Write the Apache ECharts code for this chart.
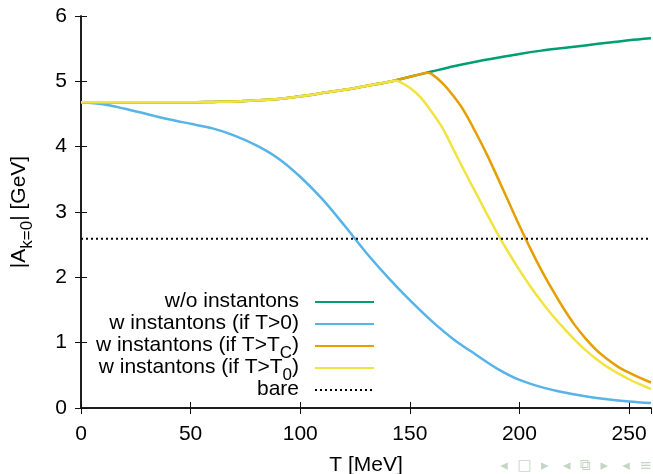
<!DOCTYPE html>
<html>
<head>
<meta charset="utf-8">
<script src="https://cdn.jsdelivr.net/npm/echarts@6/dist/echarts.min.js"></script>
<style>
  html, body { margin: 0; padding: 0; background: #fff; }
  #chart { width: 653px; height: 474px; }
</style>
</head>
<body>
<div id="chart"></div>
<script>
// Temperature grid (MeV) shared by the first two curves
const tGrid = [0, 10, 20, 30, 40, 50, 60, 70, 80, 90, 100, 110, 120, 130, 140, 150, 160, 170, 180, 190, 200, 210, 220, 230, 240, 250, 260];

// |A_{k=0}| in GeV
const noInst = [4.68, 4.68, 4.68, 4.68, 4.68, 4.68, 4.685, 4.69, 4.71, 4.73, 4.77, 4.82, 4.87, 4.93, 4.99, 5.07, 5.15, 5.23, 5.30, 5.36, 5.42, 5.47, 5.51, 5.55, 5.59, 5.63, 5.66];
const instAll = [4.68, 4.65, 4.58, 4.50, 4.42, 4.35, 4.28, 4.17, 4.02, 3.82, 3.54, 3.20, 2.80, 2.38, 2.00, 1.65, 1.33, 1.05, 0.82, 0.60, 0.43, 0.32, 0.24, 0.18, 0.135, 0.10, 0.075];

const tTc = [0, 10, 20, 30, 40, 50, 60, 70, 80, 90, 100, 110, 120, 130, 140, 150, 155, 158, 160, 165, 170, 175, 180, 185, 190, 195, 200, 205, 210, 215, 220, 225, 230, 235, 240, 245, 250, 255, 260];
const instTc = [4.68, 4.68, 4.68, 4.68, 4.68, 4.68, 4.685, 4.69, 4.71, 4.73, 4.77, 4.82, 4.87, 4.93, 4.99, 5.07, 5.11, 5.13, 5.11, 4.97, 4.77, 4.53, 4.22, 3.89, 3.53, 3.16, 2.79, 2.44, 2.11, 1.81, 1.53, 1.28, 1.07, 0.89, 0.75, 0.63, 0.54, 0.46, 0.39];

const tT0 = [0, 10, 20, 30, 40, 50, 60, 70, 80, 90, 100, 110, 120, 130, 140, 143, 145, 150, 155, 160, 165, 170, 175, 180, 185, 190, 195, 200, 205, 210, 215, 220, 225, 230, 235, 240, 245, 250, 255, 260];
const instT0 = [4.68, 4.68, 4.68, 4.68, 4.68, 4.68, 4.685, 4.69, 4.71, 4.73, 4.77, 4.82, 4.87, 4.93, 4.99, 5.01, 5.00, 4.90, 4.75, 4.53, 4.28, 3.95, 3.62, 3.30, 2.98, 2.67, 2.38, 2.11, 1.86, 1.63, 1.42, 1.23, 1.05, 0.89, 0.75, 0.63, 0.53, 0.44, 0.36, 0.29];

const bareT = [0, 260];
const bareVal = [2.59, 2.59];

const xTicks = [0, 50, 100, 150, 200, 250];
const yTicks = [0, 1, 2, 3, 4, 5, 6];

const seriesNames = [
    'w/o instantons',
    'w instantons (if T>0)',
    'w instantons (if T>T_C)',
    'w instantons (if T>T_0)',
    'bare'
];
const seriesColors = ['#009e73', '#56b4e9', '#e69f00', '#f0e442', '#000000'];

const FONT = '"Liberation Sans", Arial, Helvetica, sans-serif';

function pairs(xs, ys) {
    return xs.map(function (x, i) { return [x, ys[i]]; });
}

// gnuplot style subscripts: T_C -> T{s|C}
function legendLabel(name) {
    let m = name.match(/^(.*)_(\w)(\))$/);
    if (m) {
        return '{n|' + m[1] + '}{s|' + m[2] + '}{n|' + m[3] + '}';
    }
    return '{n|' + name + '}';
}

let chart = echarts.init(document.getElementById('chart'), null, {renderer: 'canvas'});

let textRich = {
    n: {fontFamily: FONT, fontSize: 21, color: '#000', lineHeight: 22, verticalAlign: 'top'},
    s: {fontFamily: FONT, fontSize: 17, color: '#000', lineHeight: 17, verticalAlign: 'top', padding: [10, 0, 0, 0]}
};

let legends = seriesNames.map(function (name, i) {
    return {
        data: [name],
        orient: 'vertical',
        align: 'right',
        right: 278,
        top: 291 + i * 22,
        padding: 0,
        itemWidth: 59,
        itemHeight: 2,
        itemStyle: {opacity: 0},
        selectedMode: false,
        formatter: legendLabel,
        textStyle: {
            fontFamily: FONT,
            fontSize: 21,
            color: '#000',
            padding: [0, 11, 0, 0],
            rich: textRich
        }
    };
});

let lineSeries = [
    pairs(tGrid, noInst),
    pairs(tGrid, instAll),
    pairs(tTc, instTc),
    pairs(tT0, instT0),
    pairs(bareT, bareVal)
].map(function (data, i) {
    let isBare = i === 4;
    return {
        name: seriesNames[i],
        type: 'line',
        data: data,
        symbol: 'none',
        smooth: isBare ? false : 0.3,
        color: seriesColors[i],
        lineStyle: {
            width: isBare ? 2 : 2.5,
            color: seriesColors[i],
            type: isBare ? [2, 3] : 'solid'
        },
        z: 2 + i,
        animation: false
    };
});

let axisCommon = {
    type: 'value',
    axisLine: {show: true, lineStyle: {color: '#111', width: 1.5}},
    axisTick: {show: true, inside: true, length: 6, lineStyle: {color: '#111', width: 1}},
    splitLine: {show: false}
};

let option = {
    backgroundColor: '#fff',
    animation: false,
    grid: {left: 81, right: 2, top: 16, bottom: 66, containLabel: false, outerBoundsMode: 'none'},
    legend: legends,
    xAxis: [
        Object.assign({}, axisCommon, {
            min: xTicks[0], max: 260, interval: 50,
            position: 'bottom',
            axisLabel: {
                fontFamily: FONT, fontSize: 21, color: '#000', margin: 16,
                showMaxLabel: false,
                formatter: function (v) { return xTicks.indexOf(v) >= 0 ? String(v) : ''; }
            },
            name: 'T [MeV]',
            nameLocation: 'middle',
            nameGap: 47,
            nameTextStyle: {fontFamily: FONT, fontSize: 21, color: '#000'}
        }),
        Object.assign({}, axisCommon, {
            min: xTicks[0], max: 260, interval: 50,
            position: 'top',
            axisLabel: {show: false}
        })
    ],
    yAxis: [
        Object.assign({}, axisCommon, {
            min: yTicks[0], max: yTicks[yTicks.length - 1], interval: 1,
            position: 'left',
            axisLabel: {fontFamily: FONT, fontSize: 21, color: '#000', margin: 14},
            name: '{n||A}{s|k=0}{n|| [GeV]}',
            nameLocation: 'middle',
            nameGap: 50,
            nameRotate: 90,
            nameTextStyle: {fontFamily: FONT, fontSize: 21, color: '#000', rich: textRich}
        }),
        Object.assign({}, axisCommon, {
            min: yTicks[0], max: yTicks[yTicks.length - 1], interval: 1,
            position: 'right',
            axisLabel: {show: false}
        })
    ],
    series: lineSeries,
    graphic: [{
        type: 'text',
        right: 1,
        bottom: 0,
        silent: true,
        style: {
            text: '\u25C2  \u25A1  \u25B8   \u25C2  \u29C9  \u25B8   \u25C2  \u2261',
            fontFamily: '"DejaVu Sans", sans-serif',
            fontSize: 15,
            fill: '#c3d6c3'
        }
    }]
};

chart.setOption(option);

window.addEventListener('resize', function () {
    chart.resize();
});
</script>
</body>
</html>
